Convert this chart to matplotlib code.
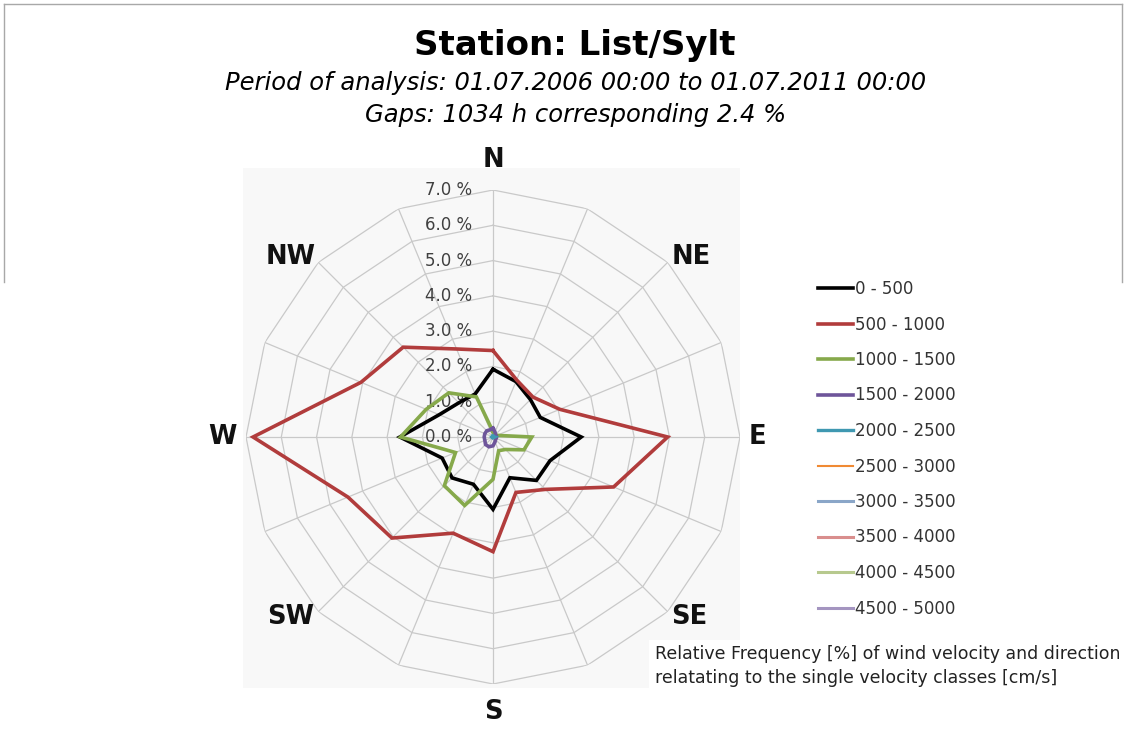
import numpy as np
import matplotlib
matplotlib.use("Agg")
import matplotlib.pyplot as plt
from matplotlib.patches import Rectangle
from matplotlib.lines import Line2D

# 16 wind directions, clockwise from north
directions = ["N", "NNE", "NE", "ENE", "E", "ESE", "SE", "SSE",
              "S", "SSW", "SW", "WSW", "W", "WNW", "NW", "NNW"]
# label offsets (pixels) from the outer ring vertex for the named directions
label_offsets = {"N": (0, 30), "NE": (24, 5), "E": (17, 0), "SE": (22, -5),
                 "S": (0, -28), "SW": (-28, -5), "W": (-24, 0), "NW": (-28, 5)}

classes = ["0 - 500", "500 - 1000", "1000 - 1500", "1500 - 2000", "2000 - 2500",
           "2500 - 3000", "3000 - 3500", "3500 - 4000", "4000 - 4500", "4500 - 5000"]

# relative frequency [%] per direction
v0_500 = [1.92, 1.70, 1.50, 1.45, 2.50, 1.75, 1.74, 1.25,
          2.05, 1.45, 1.64, 1.56, 2.64, 1.65, 1.37, 1.32]
v500_1000 = [2.45, 1.75, 1.60, 2.05, 4.95, 3.70, 2.10, 1.70,
             3.25, 2.95, 4.05, 4.45, 6.80, 4.05, 3.60, 2.70]
v1000_1500 = [0.15, 0.10, 0.10, 0.12, 1.10, 0.95, 0.50, 0.42,
              1.20, 2.10, 1.95, 1.15, 2.62, 2.05, 1.77, 1.23]
v1500_2000 = [0.25, 0.15, 0.10, 0.10, 0.10, 0.10, 0.10, 0.15,
              0.25, 0.30, 0.30, 0.25, 0.25, 0.25, 0.25, 0.22]
v2000_2500 = [0.02, 0.02, 0.01, 0.02, 0.05, 0.03, 0.02, 0.02,
              0.02, 0.03, 0.03, 0.03, 0.04, 0.03, 0.03, 0.02]
v2500_3000 = [0.0] * 16
v3000_3500 = [0.0] * 16
v3500_4000 = [0.0] * 16
v4000_4500 = [0.0] * 16
v4500_5000 = [0.0] * 16

series = [v0_500, v500_1000, v1000_1500, v1500_2000, v2000_2500,
          v2500_3000, v3000_3500, v3500_4000, v4000_4500, v4500_5000]
colors = ["#000000", "#B13C3C", "#86A94B", "#6E559A", "#3F98B1",
          "#F08A33", "#8AA6C8", "#D98E8D", "#B7C98E", "#A495C0"]
widths = [2.6, 2.6, 2.6, 2.6, 2.4, 1.5, 2.2, 2.2, 2.2, 2.2]

rings = [1, 2, 3, 4, 5, 6, 7]

fig = plt.figure(figsize=(11.28, 7.35), dpi=100)
W, H = 1128, 735

# light plot-area backdrop and thin frame, kept behind the axes
fig.patches.append(Rectangle((243 / W, 1 - 688 / H), 497 / W, 520 / H,
                             transform=fig.transFigure, facecolor="#f8f8f8",
                             edgecolor="none", zorder=-5))
frame = dict(transform=fig.transFigure, color="#a8a8a8", lw=1.0, zorder=-5)
fig.lines.append(Line2D([4 / W, 1122 / W], [1 - 4 / H, 1 - 4 / H], **frame))
fig.lines.append(Line2D([4 / W, 4 / W], [1 - 4 / H, 1 - 282 / H], **frame))
fig.lines.append(Line2D([1122 / W, 1122 / W], [1 - 4 / H, 1 - 282 / H], **frame))

cx, cy, R = 493, 437, 247
ax = fig.add_axes([(cx - R) / W, (H - cy - R) / H, 2 * R / W, 2 * R / H],
                  projection="polar")
ax.set_theta_zero_location("N")
ax.set_theta_direction(-1)
ax.set_ylim(0, 7)
ax.grid(False)
ax.set_xticks([])
ax.set_yticks([])
ax.spines["polar"].set_visible(False)
ax.patch.set_visible(False)

theta = np.deg2rad(np.arange(len(directions)) * 22.5)
closed = np.append(theta, theta[0])

# polygon grid and spokes
for r in rings:
    ax.plot(closed, [r] * len(closed), color="#c9c9c9", lw=0.9, zorder=1)
for t in theta:
    ax.plot([t, t], [0, rings[-1]], color="#c9c9c9", lw=0.9, zorder=1)

# radial labels along the north spoke
for r in [0] + rings:
    ax.annotate(f"{r:.1f} %", (0, r), xytext=(-15, 0), textcoords="offset points",
                ha="right", va="center", fontsize=12, color="#404040", zorder=2)

for name, t in zip(directions, theta):
    if name in label_offsets:
        ax.annotate(name, (t, rings[-1]), xytext=label_offsets[name],
                    textcoords="offset pixels", ha="center", va="center",
                    fontsize=18.5, fontweight="bold", color="#111111")

for vals, c, lw, lab in zip(series, colors, widths, classes):
    ax.plot(closed, vals + vals[:1], color=c, lw=lw, label=lab, zorder=3,
            solid_joinstyle="miter")

leg = fig.legend(loc="upper left", bbox_to_anchor=(818 / W, 1 - 280 / H),
                 frameon=False, fontsize=12, handlelength=2.1, handletextpad=0.1,
                 labelspacing=1.05, borderpad=0, borderaxespad=0)
for txt in leg.get_texts():
    txt.set_color("#333333")

fig.text(575 / W, 1 - 45 / H, "Station: List/Sylt", ha="center", va="center",
         fontsize=24.5, fontweight="bold")
fig.text(576 / W, 1 - 83 / H,
         "Period of analysis: 01.07.2006 00:00 to 01.07.2011 00:00",
         ha="center", va="center", fontsize=17.5, style="italic")
fig.text(576 / W, 1 - 115 / H, "Gaps: 1034 h corresponding 2.4 %",
         ha="center", va="center", fontsize=17.5, style="italic")

fig.text(655 / W, 1 - 666 / H,
         "Relative Frequency [%] of wind velocity and direction\n"
         "relatating to the single velocity classes [cm/s]",
         ha="left", va="center", fontsize=12.5, color="#222222", linespacing=1.4,
         bbox=dict(facecolor="white", edgecolor="none", pad=4))

fig.savefig("out.png", dpi=100, facecolor="white")
